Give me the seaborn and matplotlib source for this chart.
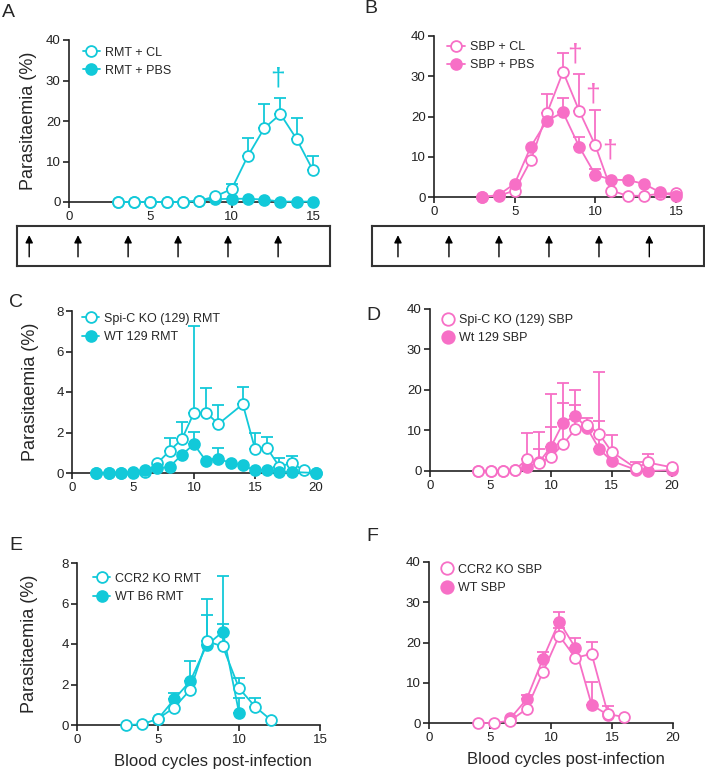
import matplotlib
matplotlib.use('Agg')
import matplotlib.pyplot as plt
import numpy as np
import pandas as pd
import seaborn as sns

cyan = '#12C9D9'
pink = '#F76FC6'

# panel A: RMT, clodronate vs PBS
a_x = [3, 4, 5, 6, 7, 8, 9, 10, 11, 12, 13, 14, 15]
a_cl = [0, 0, 0, 0, 0, 0.3, 1.4, 3.2, 11.4, 18.2, 21.7, 15.5, 7.8]
a_cl_sd = [0, 0, 0, 0, 0, 0, 0, 1.3, 4.3, 5.9, 3.9, 5.3, 3.5]
a_pbs = [0, 0, 0, 0, 0, 0.3, 0.7, 0.8, 0.8, 0.6, 0.1, 0.1, 0.1]
a_dagger = [(12.8, 30.5)]

# panel B: SBP, clodronate vs PBS
b_x = [3, 4, 5, 6, 7, 8, 9, 10, 11, 12, 13, 14, 15]
b_cl = [0, 0.3, 1.6, 9.1, 20.8, 31.1, 21.4, 12.8, 1.6, 0.3, 0.3, 0.8, 1.0]
b_cl_sd = [0, 0, 0, 0, 4.9, 4.7, 9.1, 8.8, 0, 0, 0, 0, 0]
b_pbs = [0, 0.5, 3.3, 12.5, 19.0, 21.0, 12.5, 5.5, 4.3, 4.2, 3.3, 1.2, 0.2]
b_pbs_sd = [0, 0, 0, 0, 0, 3.7, 2.5, 1.4, 0, 0, 0, 0, 0]
b_dagger = [(8.7, 35.5), (9.8, 25.5), (10.9, 11.5)]

# treatment arrows (blood cycles)
a_arrows = [-2.45, 0.55, 3.63, 6.7, 9.77, 12.85]
b_arrows = [-2.23, 0.93, 4.03, 7.13, 10.23, 13.35]

# panel C: Spi-C KO vs WT 129, RMT
c_ko_x = [2, 3, 4, 5, 6, 7, 8, 9, 10, 11, 12, 14, 15, 16, 17, 18, 19, 20]
c_ko = [0, 0, 0, 0, 0.05, 0.48, 1.1, 1.66, 2.98, 2.98, 2.42, 3.4, 1.19, 1.22, 0.31, 0.5, 0.13, 0]
c_ko_sd = [0, 0, 0, 0, 0, 0, 0.65, 0.84, 4.28, 1.2, 0.92, 0.86, 0.81, 0.58, 0.41, 0.36, 0, 0]
c_wt_x = [2, 3, 4, 5, 6, 7, 8, 9, 10, 11, 12, 13, 14, 15, 16, 17, 18, 20]
c_wt = [0, 0, 0, 0.05, 0.15, 0.23, 0.3, 0.9, 1.42, 0.58, 0.7, 0.5, 0.38, 0.13, 0.16, 0.07, 0.05, 0]
c_wt_sd = [0, 0, 0, 0, 0, 0, 0, 0, 0.6, 0, 0.52, 0, 0, 0, 0, 0, 0, 0]

# panel D: Spi-C KO vs WT 129, SBP
d_x = [4, 5, 6, 7, 8, 9, 10, 11, 12, 13, 14, 15, 17, 18, 20]
d_ko = [0, 0, 0, 0.2, 2.9, 2.0, 3.5, 6.6, 10.3, 11.4, 9.1, 4.8, 0.7, 2.1, 0.9]
d_ko_sd = [0, 0, 0, 0, 6.4, 3.4, 7.4, 10.1, 6.0, 1.8, 3.2, 4.2, 1.6, 2.0, 0]
d_wt = [0, 0, 0, 0.2, 1.0, 2.1, 6.0, 11.9, 13.6, 10.5, 5.4, 2.5, 0.3, 0, 0.2]
d_wt_sd = [0, 0, 0, 0, 0, 7.6, 12.9, 9.9, 6.4, 0, 19.1, 0, 0, 0, 0]

# panel E: CCR2 KO vs WT B6, RMT
e_ko_x = [3, 4, 5, 6, 7, 8, 9, 10, 11, 12]
e_ko = [0, 0.03, 0.31, 0.86, 1.75, 4.14, 3.88, 1.82, 0.9, 0.23]
e_ko_sd = [0, 0, 0, 0, 0, 2.1, 1.1, 0.48, 0.45, 0]
e_wt_x = [5, 6, 7, 8, 9, 10]
e_wt = [0.3, 1.27, 2.18, 3.94, 4.6, 0.61]
e_wt_sd = [0, 0.33, 0.97, 1.49, 2.74, 0.72]

# panel F: CCR2 KO vs WT, SBP
f_ko_x = [4, 5.33, 6.67, 8, 9.33, 10.67, 12, 13.33, 14.67, 16]
f_ko = [0, 0, 0.6, 3.5, 12.6, 21.7, 16.2, 17.2, 2.2, 1.5]
f_ko_sd = [0, 0, 0, 0, 0, 2.0, 0, 3.0, 2.1, 0]
f_wt_x = [6.67, 8, 9.33, 10.67, 12, 13.33, 14.67]
f_wt = [1.15, 5.9, 15.9, 25.2, 18.7, 4.5, 2.0]
f_wt_sd = [0, 1.1, 1.8, 2.4, 2.5, 5.6, 0]

sns.set_style('ticks')
plt.rcParams['font.family'] = ['Liberation Sans', 'DejaVu Sans']
plt.rcParams['axes.linewidth'] = 1.2
plt.rcParams['xtick.major.width'] = 1.2
plt.rcParams['ytick.major.width'] = 1.2
plt.rcParams['xtick.major.size'] = 4
plt.rcParams['ytick.major.size'] = 4
plt.rcParams['xtick.labelsize'] = 9.5
plt.rcParams['ytick.labelsize'] = 9.5
plt.rcParams['xtick.major.pad'] = 2.5
plt.rcParams['ytick.major.pad'] = 2
plt.rcParams['xtick.color'] = '#222222'
plt.rcParams['ytick.color'] = '#222222'


def series(ax, x, y, sd, color, label, hollow, z):
    df = pd.DataFrame({'x': x, 'y': y})
    if sd is not None:
        sd = np.array(sd, dtype=float)
        m = sd > 0
        ax.errorbar(np.array(x)[m], np.array(y)[m], yerr=[np.zeros(m.sum()), sd[m]],
                    fmt='none', ecolor=color, elinewidth=1.3, capsize=4.5, capthick=1.3,
                    zorder=z - 1, clip_on=False)
    sns.lineplot(data=df, x='x', y='y', ax=ax, color=color, marker='o', markersize=7.8,
                 markeredgewidth=1.3, markeredgecolor=color,
                 markerfacecolor='white' if hollow else color,
                 linewidth=1.3, label=label, zorder=z, clip_on=False)


def style(ax, xmax, ymax, ystep, ylab_x, xlab, leg_x, leg_y, order=None, dots=False):
    ax.set_xlim(0, xmax)
    ax.set_ylim(0, ymax)
    ax.set_xticks(np.arange(0, xmax + 1, 5))
    ax.set_yticks(np.arange(0, ymax + ystep / 2, ystep))
    sns.despine(ax=ax)
    ax.spines['left'].set_color('#222222')
    ax.spines['bottom'].set_color('#222222')
    if ylab_x is not None:
        ax.set_ylabel('Parasitaemia (%)', fontsize=13)
        ax.yaxis.set_label_coords(ylab_x, 0.5)
    else:
        ax.set_ylabel('')
    if xlab:
        ax.set_xlabel('Blood cycles post-infection', fontsize=12)
        ax.xaxis.set_label_coords(0.56, -0.18)
    else:
        ax.set_xlabel('')
    h, l = ax.get_legend_handles_labels()
    if order is not None:
        h = [h[i] for i in order]
        l = [l[i] for i in order]
    leg = ax.legend(h, l, loc='upper left', bbox_to_anchor=(leg_x, leg_y), frameon=False,
                    fontsize=9, handlelength=0.9 if dots else 1.4, handletextpad=0.4,
                    labelspacing=0.5, borderaxespad=0)
    if dots:
        for line in leg.get_lines():
            line.set_linestyle('none')
            line.set_markersize(9)


fig = plt.figure(figsize=(7.05, 7.76), dpi=100)
W, H = 705, 776


def add_axes(l, t, r, b):
    return fig.add_axes([l / W, 1 - b / H, (r - l) / W, (b - t) / H])


axA = add_axes(69, 40, 313, 202)
series(axA, a_x, a_pbs, None, cyan, 'RMT + PBS', False, 3)
series(axA, a_x, a_cl, a_cl_sd, cyan, 'RMT + CL', True, 5)
style(axA, 15, 40, 10, -0.13, False, 0.035, 0.99, order=[1, 0])
for dx, dy in a_dagger:
    axA.text(dx, dy, '†', color=cyan, fontsize=19, ha='center', va='center')

axB = add_axes(434, 36, 676, 197)
series(axB, b_x, b_cl, b_cl_sd, pink, 'SBP + CL', True, 3)
series(axB, b_x, b_pbs, b_pbs_sd, pink, 'SBP + PBS', False, 5)
style(axB, 15, 40, 10, None, False, 0.035, 1.0)
for dx, dy in b_dagger:
    axB.text(dx, dy, '†', color=pink, fontsize=19, ha='center', va='center')

# treatment boxes
for (l, r), arrows, lo, hi in [((17, 330), a_arrows, -3.2, 16.04), ((372, 704), b_arrows, -3.84, 16.74)]:
    bx = add_axes(l, 226, r, 266)
    bx.set_xlim(lo, hi)
    bx.set_ylim(0, 1)
    bx.set_xticks([])
    bx.set_yticks([])
    for s in bx.spines.values():
        s.set_linewidth(1.5)
        s.set_color('#333333')
    for ax_x in arrows:
        bx.annotate('', xy=(ax_x, 0.84), xytext=(ax_x, 0.16),
                    arrowprops=dict(arrowstyle='-|>', color='black', lw=1.0, mutation_scale=11))

axC = add_axes(72, 311, 316, 473)
series(axC, c_ko_x, c_ko, c_ko_sd, cyan, 'Spi-C KO (129) RMT', True, 3)
series(axC, c_wt_x, c_wt, c_wt_sd, cyan, 'WT 129 RMT', False, 5)
style(axC, 20, 8, 2, -0.137, False, 0.02, 1.02)

axD = add_axes(430, 309, 672, 471)
series(axD, d_x, d_ko, d_ko_sd, pink, 'Spi-C KO (129) SBP', True, 5)
series(axD, d_x, d_wt, d_wt_sd, pink, 'Wt 129 SBP', False, 3)
style(axD, 20, 40, 10, None, False, 0.03, 1.0, dots=True)

axE = add_axes(77, 563, 320, 725)
series(axE, e_ko_x, e_ko, e_ko_sd, cyan, 'CCR2 KO RMT', True, 5)
series(axE, e_wt_x, e_wt, e_wt_sd, cyan, 'WT B6 RMT', False, 3)
style(axE, 15, 8, 2, -0.16, True, 0.045, 0.97)

axF = add_axes(429, 562, 673, 723)
series(axF, f_ko_x, f_ko, f_ko_sd, pink, 'CCR2 KO SBP', True, 5)
series(axF, f_wt_x, f_wt, f_wt_sd, pink, 'WT SBP', False, 3)
style(axF, 20, 40, 10, None, True, 0.03, 1.02, dots=True)

for letter, px, py in [('A', 2, 4), ('B', 364, 0), ('C', 9, 294), ('D', 366, 307), ('E', 9, 537), ('F', 366, 528)]:
    fig.text(px / W, 1 - py / H, letter, fontsize=14, va='top', ha='left')

fig.savefig('out.png', dpi=100)
